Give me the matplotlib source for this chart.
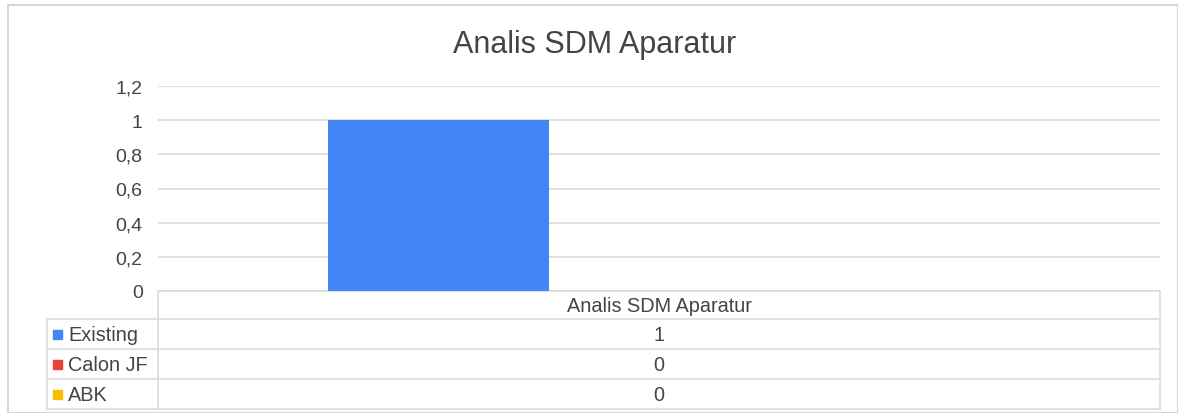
import matplotlib.pyplot as plt
import numpy as np

title = "Analis SDM Aparatur"
categories = ["Analis SDM Aparatur"]
series_names = ["Existing", "Calon JF", "ABK"]
series_values = [[1], [0], [0]]
series_colors = ["#4285F4", "#EA4335", "#FBBC04"]
y_ticks = [0, 0.2, 0.4, 0.6, 0.8, 1.0, 1.2]

W, H = 1178, 414
plt.rcParams["font.family"] = ["Liberation Sans", "DejaVu Sans"]
grid_c = "#d9d9d9"
text_c = "#444444"

fig = plt.figure(figsize=(W / 100, H / 100), dpi=100)


def frac(x0, y0, x1, y1):
    # pixel box -> figure fraction [left, bottom, width, height]
    return [x0 / W, 1 - y1 / H, (x1 - x0) / W, (y1 - y0) / H]


# background layer in pixel coordinates for frame + table
bg = fig.add_axes([0, 0, 1, 1])
bg.set_xlim(0, W)
bg.set_ylim(H, 0)
bg.axis("off")
bg.add_patch(plt.Rectangle((8, 6), W - 8, H - 6, fill=False, ec="#d6d6d6", lw=1.5))

# main chart
px0, px1, py_top, py_bot = 158, 1160, 87, 292
ax = fig.add_axes(frac(px0, py_top, px1, py_bot))
n = len(series_names)
x = np.arange(len(categories))
width = 0.66 / n
for i, (name, vals, c) in enumerate(zip(series_names, series_values, series_colors)):
    ax.bar(x + (i - (n - 1) / 2) * width, vals, width, color=c, zorder=3)
ax.set_xlim(-0.5, len(categories) - 0.5)
ax.set_ylim(0, 1.2)
ax.set_yticks(y_ticks)
ax.set_yticklabels([f"{v:g}".replace(".", ",") for v in y_ticks], fontsize=14, color=text_c)
ax.tick_params(axis="y", length=0, pad=11)
ax.set_xticks([])
ax.grid(axis="y", color=grid_c, lw=1.2, zorder=0)
for s in ax.spines.values():
    s.set_visible(False)
ax.patch.set_alpha(0)

fig.text(595 / W, 1 - 45 / H, title, ha="center", va="center", fontsize=22, color=text_c)

# data table
row_h = 30
hdr_top, hdr_bot = 292, 320
lab_x0 = 47
rows_top = [hdr_bot + k * row_h for k in range(n)]
lc = "#dcdcdc"
bg.plot([px0, px1], [hdr_top, hdr_top], color=lc, lw=1.2)
bg.plot([px0, px0], [hdr_top, rows_top[-1] + row_h], color=lc, lw=1.2)
bg.plot([px1, px1], [hdr_top, rows_top[-1] + row_h], color=lc, lw=1.2)
bg.plot([lab_x0, lab_x0], [hdr_bot, rows_top[-1] + row_h], color=lc, lw=1.2)
for k in range(n + 1):
    yy = hdr_bot + k * row_h
    bg.plot([lab_x0, px1], [yy, yy], color=lc, lw=1.2)

col_w = (px1 - px0) / len(categories)
for j, cat in enumerate(categories):
    cx = px0 + (j + 0.5) * col_w
    bg.text(cx, (hdr_top + hdr_bot) / 2 + 1, cat, ha="center", va="center",
            fontsize=14.3, color=text_c)
    for k in range(n):
        bg.text(cx, rows_top[k] + row_h / 2 + 1, f"{series_values[k][j]:g}", ha="center",
                va="center", fontsize=14.3, color=text_c)

for k, (name, c) in enumerate(zip(series_names, series_colors)):
    yc = rows_top[k] + row_h / 2
    bg.add_patch(plt.Rectangle((53, yc - 4), 9, 9, color=c))
    bg.text(68, yc + 1, name, ha="left", va="center", fontsize=14.3, color=text_c)

fig.savefig("out.png", dpi=100)
